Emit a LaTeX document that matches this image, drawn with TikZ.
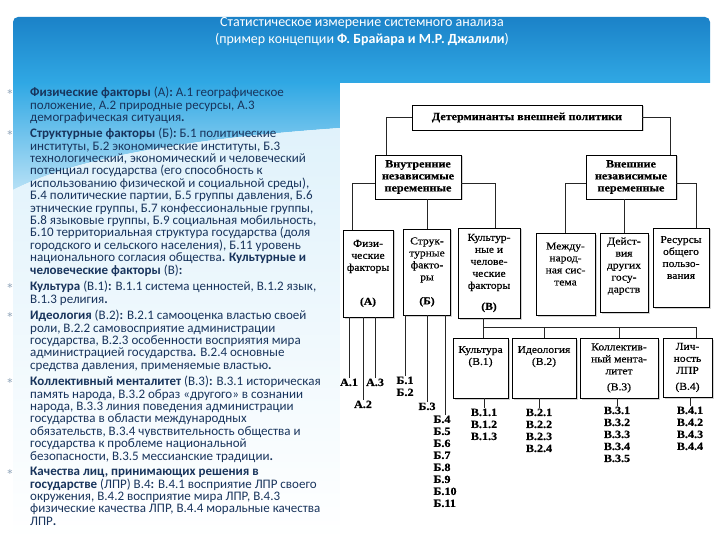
\documentclass[tikz,border=0pt]{standalone}
\usepackage{fontspec}
\setmainfont{Carlito}
\newfontfamily\scanfont[FakeStretch=1.1, FakeBold=0.4]{Liberation Serif}
\newfontfamily\symfont{DejaVu Sans}
\usetikzlibrary{shadows}
\definecolor{txtblue}{RGB}{24,52,92}
\definecolor{hdrtop}{RGB}{27,130,200}
\definecolor{hdrbot}{RGB}{48,168,228}
\definecolor{dotgray}{RGB}{150,170,190}

\begin{document}
\begin{tikzpicture}[x=1pt, y=-1pt,
  box/.style={draw, fill=white, align=center, inner sep=1pt,
    font=\scanfont\fontsize{10.5}{12}\selectfont,
    drop shadow={shadow xshift=1.5pt, shadow yshift=-1.5pt, fill=black!35}},
  bigbox/.style={box, font=\scanfont\bfseries\fontsize{11}{12}\selectfont},
  code/.style={anchor=north, inner sep=0.5pt, align=left,
    font=\scanfont\bfseries\fontsize{11}{12}\selectfont},
  para/.style={anchor=north west, align=left, inner sep=0pt, text=txtblue,
    font=\fontsize{13}{12.4}\selectfont},
  dot/.style={text=dotgray, inner sep=0pt, font=\symfont\fontsize{8}{8}\selectfont},
  wire/.style={black!85, line width=0.6pt}]
\useasboundingbox (0,0) rectangle (720,540);
\fill[white] (0,0) rectangle (720,540);

% slide background
\shade[top color=hdrtop, bottom color=hdrbot] (13,83) [rounded corners=5pt] -- (13,17) -- (710,17) [sharp corners] -- (710,83) -- cycle;
\shade[top color=hdrbot, bottom color=hdrbot!35] (13,83) -- (340,83) -- (340,128) .. controls (240,135) and (90,150) .. (13,190) -- cycle;
\shade[top color=hdrbot!15, bottom color=white] (13,190) .. controls (90,150) and (240,135) .. (340,128) -- (340,540) -- (13,540) -- cycle;

\node[align=center, text=white, font=\fontsize{14}{17}\selectfont] (title) at (362,32)
  {Статистическое измерение системного анализа\\(пример концепции \textbf{Ф. Брайара и М.Р. Джалили})};

% left text
\foreach \y [count=\i] in {92,133,286,315,381,472}
  \node[dot] (b\i) at (10,\y) {∗};
\node[para] (p1) at (30,87) {\textbf{Физические факторы} (А)\textbf{:} А.1 географическое\\
  положение, А.2 природные ресурсы, А.3\\
  демографическая ситуация\textbf{.}};
\node[para] (p2) at (30,128) {\textbf{Структурные факторы} (Б)\textbf{:} Б.1 политические\\
  институты, Б.2 экономические институты, Б.3\\
  технологический, экономический и человеческий\\
  потенциал государства (его способность к\\
  использованию физической и социальной среды),\\
  Б.4 политические партии, Б.5 группы давления, Б.6\\
  этнические группы, Б.7 конфессиональные группы,\\
  Б.8 языковые группы, Б.9 социальная мобильность,\\
  Б.10 территориальная структура государства (доля\\
  городского и сельского населения), Б.11 уровень\\
  национального согласия общества\textbf{. Культурные и}\\
  \textbf{человеческие факторы} (В)\textbf{:}};
\node[para] (p3) at (30,281) {\textbf{Культура} (В.1)\textbf{:} В.1.1 система ценностей, В.1.2 язык,\\
  В.1.3 религия\textbf{.}};
\node[para] (p4) at (30,310) {\textbf{Идеология} (В.2)\textbf{:} В.2.1 самооценка властью своей\\
  роли, В.2.2 самовосприятие администрации\\
  государства, В.2.3 особенности восприятия мира\\
  администрацией государства\textbf{.} В.2.4 основные\\
  средства давления, применяемые властью\textbf{.}};
\node[para] (p5) at (30,376) {\textbf{Коллективный менталитет} (В.3)\textbf{:} В.3.1 историческая\\
  память народа, В.3.2 образ «другого» в сознании\\
  народа, В.3.3 линия поведения администрации\\
  государства в области международных\\
  обязательств, В.3.4 чувствительность общества и\\
  государства к проблеме национальной\\
  безопасности, В.3.5 мессианские традиции\textbf{.}};
\node[para] (p6) at (30,467) {\textbf{Качества лиц, принимающих решения в}\\
  \textbf{государстве} (ЛПР) В.4\textbf{:} В.4.1 восприятие ЛПР своего\\
  окружения, В.4.2 восприятие мира ЛПР, В.4.3\\
  физические качества ЛПР, В.4.4 моральные качества\\
  ЛПР\textbf{.}};

% diagram
\fill[white] (340,83) rectangle (720,540);
\node[bigbox, minimum width=230pt, minimum height=25pt] (det) at (527,117.5) {Детерминанты внешней политики};
\node[bigbox, minimum width=86pt, minimum height=44pt] (vnutr) at (418,177) {Внутренние\\независимые\\переменные};
\node[bigbox, minimum width=90pt, minimum height=44pt] (vnesh) at (631,177) {Внешние\\независимые\\переменные};

\node[box, minimum width=50pt, minimum height=87pt] (fiz) at (368,273.5) {Физи-\\ческие\\факторы\\[22pt]\textbf{(А)}};
\node[box, minimum width=47pt, minimum height=86pt] (strct) at (427,272) {Струк-\\турные\\факто-\\ры\\[12pt]\textbf{(Б)}};
\node[box, minimum width=62pt, minimum height=90pt] (kult) at (489,273) {Культур-\\ные и\\челове-\\ческие\\факторы\\[9pt]\textbf{(В)}};
\node[box, minimum width=59pt, minimum height=82pt] (mezhd) at (565.5,274) {Между-\\народ-\\ная сис-\\тема\\[8pt]\mbox{}};
\node[box, minimum width=48pt, minimum height=79pt] (deist) at (624,272.5) {Дейст-\\вия\\других\\госу-\\дарств\\[3pt]\mbox{}};
\node[box, minimum width=56pt, minimum height=79pt] (resurs) at (681,267.5) {Ресурсы\\общего\\пользо-\\вания\\[8pt]\mbox{}};

\node[box, minimum width=55pt, minimum height=60pt] (kultura) at (480.5,368) {Культура\\(В.1)\\[13pt]\mbox{}};
\node[box, minimum width=64pt, minimum height=60pt] (ideol) at (544,368) {Идеология\\(В.2)\\[13pt]\mbox{}};
\node[box, minimum width=78pt, minimum height=60pt] (kollekt) at (619,368) {Коллектив-\\ный мента-\\литет\\[4pt](В.3)};
\node[box, minimum width=49pt, minimum height=59pt] (lichn) at (687.5,367.5) {Лич-\\ность\\ЛПР\\[4pt](В.4)};

\node[code] (a1) at (349,378) {А.1};
\node[code] (a2) at (363,400) {А.2};
\node[code] (a3) at (375,378) {А.3};
\node[code] (b12) at (405,376) {Б.1\\Б.2};
\node[code] (b3) at (427,402) {Б.3};
\node[code] (b4) at (445,415) {Б.4\\Б.5\\Б.6\\Б.7\\Б.8\\Б.9\\Б.10\\Б.11};
\node[code] (v1) at (484,408) {В.1.1\\В.1.2\\В.1.3};
\node[code] (v2) at (539,408) {В.2.1\\В.2.2\\В.2.3\\В.2.4};
\node[code] (v3) at (617,406) {В.3.1\\В.3.2\\В.3.3\\В.3.4\\В.3.5};
\node[code] (v4) at (690,406) {В.4.1\\В.4.2\\В.4.3\\В.4.4};

\draw[wire] (det.west) -| ([xshift=11pt]vnutr.north west);
\draw[wire] (det.east) -| ([xshift=-6pt]vnesh.north east);
\draw[wire] ([yshift=-6pt]vnutr.west) -| ([xshift=9pt]fiz.north west);
\draw[wire] (strct.north) -- (strct.north |- vnutr.south);
\draw[wire] ([yshift=-6pt]vnutr.east) -| ([xshift=6pt]kult.north);
\draw[wire] ([yshift=-6pt]vnesh.west) -| (mezhd.north);
\draw[wire] (deist.north) -- (deist.north |- vnesh.south);
\draw[wire] ([yshift=-6pt]vnesh.east) -| ([xshift=15pt]resurs.north);

\coordinate (bus) at (0,327);
\coordinate (kb) at ([xshift=-6pt]kult.south);
\draw[wire] (kb) -- (kb |- kultura.north);
\draw[wire] (kb |- bus) -| ([xshift=9pt]lichn.north);
\draw[wire] (ideol.north) -- (ideol.north |- bus);
\draw[wire] (kollekt.north) -- (kollekt.north |- bus);

\foreach \n/\m in {a1/fiz,a2/fiz,a3/fiz,b12/strct,b3/strct,b4/strct,v1/kultura,v2/ideol,v3/kollekt,v4/lichn}
  \draw[wire] (\n.north) -- (\n.north |- \m.south);
\end{tikzpicture}
\end{document}
